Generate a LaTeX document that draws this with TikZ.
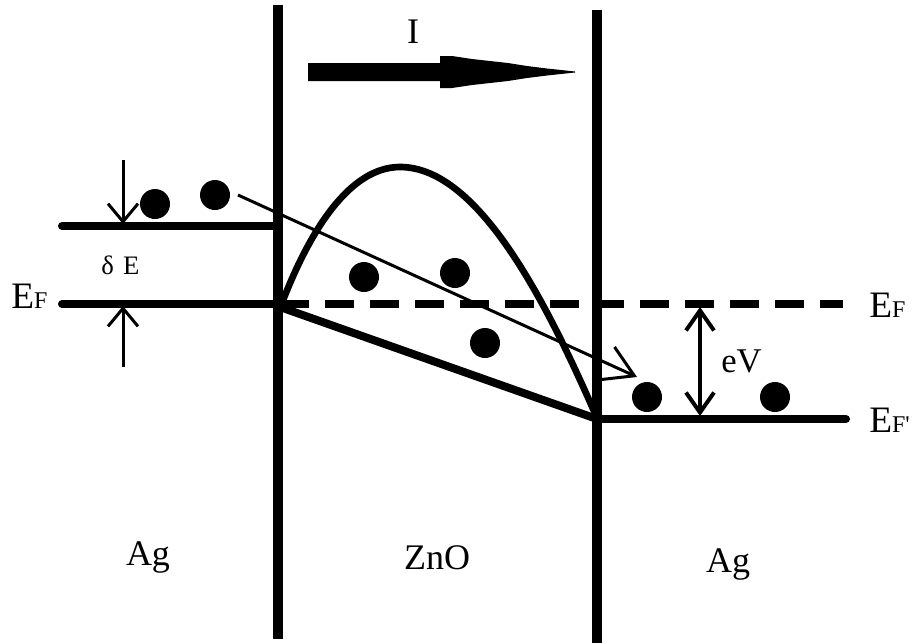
\documentclass[tikz,border=0pt]{standalone}
\usepackage{fontspec}
\setmainfont{Liberation Serif}
\usetikzlibrary{arrows.meta}
\begin{document}
\begin{tikzpicture}[x=0.75pt,y=-0.75pt,
  wall/.style={line width=7.5pt},
  level/.style={line width=6pt, line cap=round},
  dashlevel/.style={line width=6pt, dash pattern=on 21.75pt off 12pt},
  band/.style={line width=6pt, line cap=round},
  barrier/.style={line width=5pt, line cap=round},
  thinarrow/.style={line width=2.25pt, -{Straight Barb[length=22.5pt,width=27pt]}},
  smallarrow/.style={line width=2.25pt, -{Straight Barb[length=13.5pt,width=22.5pt]}},
  evarrow/.style={line width=3pt, {Straight Barb[length=15pt,width=21pt]}-{Straight Barb[length=15pt,width=21pt]}},
  dot/.style={fill=black},
  lbl/.style={inner sep=0pt, anchor=base, font=\fontsize{27}{30}\selectfont},
  lblw/.style={inner sep=0pt, anchor=base west}
]
\useasboundingbox (0,0) rectangle (913,643);

% coordinates
\coordinate (wlt) at (278,5);
\coordinate (wlb) at (278,639);
\coordinate (wrt) at (597,10);
\coordinate (wrb) at (597,643);
\coordinate (lua) at (62,226);
\coordinate (lub) at (278,226);
\coordinate (lfa) at (62,304);
\coordinate (lfb) at (278,304);
\coordinate (da) at (280,304);
\coordinate (db) at (843,304);
\coordinate (rfa) at (597,419);
\coordinate (rfb) at (846,419);
\coordinate (sa) at (280,307);
\coordinate (sb) at (597,419);
\coordinate (ca) at (282,303);
\coordinate (cp) at (400,167);
\coordinate (ce) at (597,418);
\coordinate (ta) at (238,195);
\coordinate (tb) at (637,377);
\coordinate (u1) at (123,160);
\coordinate (u2) at (123,224);
\coordinate (b1) at (123,367);
\coordinate (b2) at (123,306);
\coordinate (ev1) at (700,307);
\coordinate (ev2) at (700,416);

% walls
\draw[wall] (wlt) -- (wlb);
\draw[wall] (wrt) -- (wrb);

% levels
\draw[level] (lua) -- (lub);
\draw[level] (lfa) -- (lfb);
\draw[dashlevel] (da) -- (db);
\draw[level] (rfa) -- (rfb);

% band line and barrier curve
\draw[band] (sa) -- (sb);
\draw[barrier] (ca) .. controls (310,230) and (350,167) .. (cp)
               .. controls (480,167) and (549,308) .. (ce);

% arrows
\draw[thinarrow] (ta) -- (tb);
\draw[smallarrow] (u1) -- (u2);
\draw[smallarrow] (b1) -- (b2);
\draw[evarrow] (ev1) -- (ev2);

% big current arrow
\fill (308,63) -- (440,63) -- (440,56) -- (452,56) -- (472,59) -- (508,63)
  -- (527,66) -- (547,68.5) -- (575,71.5) -- (575,72.5) -- (547,75.5)
  -- (527,78) -- (508,81) -- (472,85) -- (452,88) -- (440,88) -- (440,81)
  -- (308,81) -- cycle;

% electrons
\fill[dot] (155,204) circle[radius=11.25pt];
\fill[dot] (215,195) circle[radius=11.25pt];
\fill[dot] (364,277) circle[radius=11.25pt];
\fill[dot] (455,273) circle[radius=11.25pt];
\fill[dot] (485,343) circle[radius=11.25pt];
\fill[dot] (647,397) circle[radius=11.25pt];
\fill[dot] (775,397) circle[radius=11.25pt];

% labels
\node[lbl] (tI) at (413,43) {I};
\node[lbl] (tAg1) at (148,565) {Ag};
\node[lbl] (tZnO) at (437,569) {ZnO};
\node[lbl] (tAg2) at (728,572) {Ag};
\node[lblw] (tEFl) at (11,308) {{\fontsize{28}{30}\selectfont E}{\fontsize{18}{20}\selectfont F}};
\node[lblw] (tEFr) at (869,317) {{\fontsize{28}{30}\selectfont E}{\fontsize{18}{20}\selectfont F}};
\node[lblw] (tEFp) at (869,432) {{\fontsize{28}{30}\selectfont E}{\fontsize{18}{20}\selectfont F\textquotesingle}};
\node[lblw] (tdE) at (101,274) {\fontsize{20}{22}\selectfont δ\hspace{0.35em}E};
\node[lblw] (teV) at (721,372) {\fontsize{26}{28}\selectfont eV};
\end{tikzpicture}
\end{document}
